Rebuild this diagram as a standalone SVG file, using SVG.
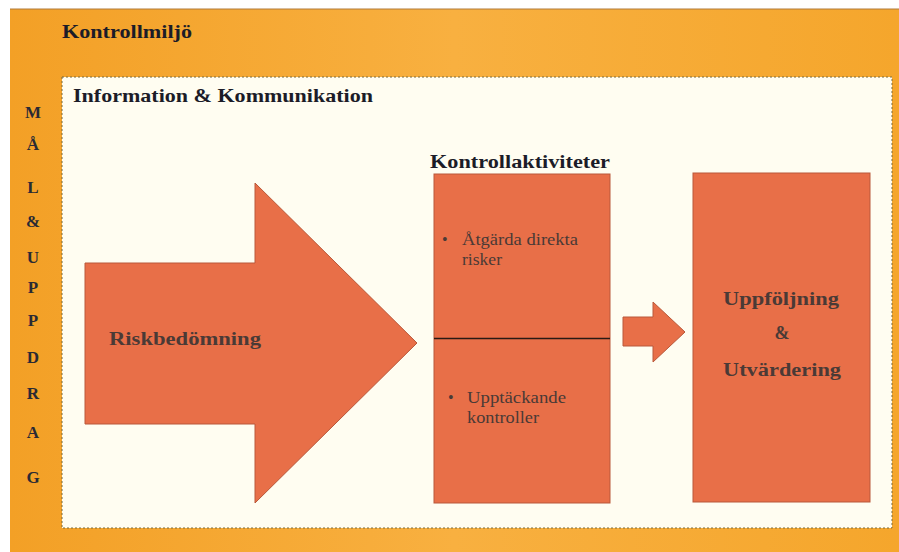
<svg xmlns="http://www.w3.org/2000/svg" width="899" height="552" viewBox="0 0 899 552">
<defs>
<linearGradient id="og" x1="0" y1="0" x2="1" y2="0">
<stop offset="0" stop-color="#f3a026"/>
<stop offset="0.5" stop-color="#f8b040"/>
<stop offset="1" stop-color="#f5a62c"/>
</linearGradient>
<style>
.t{font-family:"Liberation Serif","DejaVu Serif",serif;font-weight:bold;fill:#1c1c28}
.l{font-size:17px;text-anchor:middle;fill:#2a2a34}
.shape{fill:#e86f48;stroke:#b9583a;stroke-width:1}
.in{font-family:"Liberation Serif","DejaVu Serif",serif;fill:#4a3a36}
.b{font-weight:bold;font-size:18px}
.r{font-size:16px}
</style>
</defs>
<rect x="0" y="0" width="899" height="552" fill="#ffffff"/>
<g id="kontrollmiljo">
<rect x="10" y="9" width="889" height="543" fill="url(#og)"/>
<line x1="10" y1="9" x2="899" y2="9" stroke="#b07a3a" stroke-width="1"/>
<text class="t" x="62" y="38" font-size="18" textLength="130" lengthAdjust="spacingAndGlyphs">Kontrollmiljö</text>
</g>
<g id="mal-uppdrag">
<text class="t l" x="33" y="118">M</text>
<text class="t l" x="33" y="150">Å</text>
<text class="t l" x="33" y="193">L</text>
<text class="t l" x="33" y="227">&amp;</text>
<text class="t l" x="33" y="263">U</text>
<text class="t l" x="33" y="293">P</text>
<text class="t l" x="33" y="326">P</text>
<text class="t l" x="33" y="363">D</text>
<text class="t l" x="33" y="399">R</text>
<text class="t l" x="33" y="438">A</text>
<text class="t l" x="33" y="483">G</text>
</g>
<g id="information">
<rect x="62" y="77" width="830" height="451" fill="#fffdf1" stroke="#7a6a3a" stroke-width="1" stroke-dasharray="2,2"/>
<text class="t" x="73" y="102" font-size="19" textLength="300" lengthAdjust="spacingAndGlyphs">Information &amp; Kommunikation</text>
</g>
<g id="riskbedomning">
<polygon class="shape" points="85,263 255,263 255,183 417,343 255,503 255,424 85,424"/>
<text class="in b" x="109" y="345" font-size="17" textLength="152" lengthAdjust="spacingAndGlyphs">Riskbedömning</text>
</g>
<g id="kontrollaktiviteter">
<text class="t" x="430" y="168" font-size="18" textLength="180" lengthAdjust="spacingAndGlyphs">Kontrollaktiviteter</text>
<rect class="shape" x="434" y="174" width="176" height="329"/>
<line x1="434" y1="338.5" x2="610" y2="338.5" stroke="#2a1a14" stroke-width="1.6"/>
<text class="in r" x="442" y="245">•</text>
<text class="in r" x="462" y="245" textLength="116" lengthAdjust="spacingAndGlyphs">Åtgärda direkta</text>
<text class="in r" x="462" y="265" textLength="40" lengthAdjust="spacingAndGlyphs">risker</text>
<text class="in r" x="448" y="403">•</text>
<text class="in r" x="467" y="403" textLength="99" lengthAdjust="spacingAndGlyphs">Upptäckande</text>
<text class="in r" x="467" y="423" textLength="72" lengthAdjust="spacingAndGlyphs">kontroller</text>
</g>
<g id="connectors">
<polygon class="shape" points="623,317 653,317 653,302 685,332 653,362 653,346 623,346"/>
</g>
<g id="uppfoljning">
<rect class="shape" x="693" y="173" width="177" height="329"/>
<text class="in b" x="723" y="305" textLength="116" lengthAdjust="spacingAndGlyphs">Uppföljning</text>
<text class="in b" x="782" y="339" text-anchor="middle">&amp;</text>
<text class="in b" x="723" y="376" textLength="118" lengthAdjust="spacingAndGlyphs">Utvärdering</text>
</g>
</svg>
